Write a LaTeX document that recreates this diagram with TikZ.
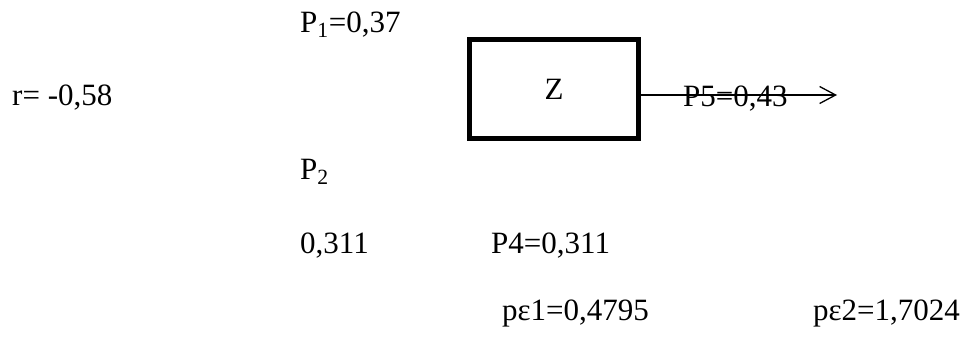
\documentclass[tikz,border=0pt]{standalone}
\usepackage{fontspec}
\setmainfont{Liberation Serif}
\usetikzlibrary{arrows.meta}
\begin{document}
\begin{tikzpicture}[x=1pt,y=-1pt,
  lbl/.style={anchor=base west,inner sep=0pt,font=\fontsize{31}{37}\selectfont},
  blockbox/.style={draw,line width=5pt,minimum width=169pt,minimum height=99pt,inner sep=0pt,font=\fontsize{31}{37}\selectfont},
  flow/.style={line width=1.3pt,-{Straight Barb[length=16pt,width=17pt,line width=1.3pt]}}]
\useasboundingbox (0,0) rectangle (967,338);
\node[lbl] (p1) at (300,32) {P\textsubscript{1}=0,37};
\node[lbl] (r) at (12,105) {r= -0,58};
\node[blockbox] (z) at (554,89) {Z};
\coordinate (aend) at (837,95);
\draw[flow] (aend -| z.east) -- (aend);
\node[lbl] (p5) at (683,106) {P5=0,43};
\node[lbl] (p2) at (300,179) {P\textsubscript{2}};
\node[lbl] (v311) at (300,253) {0,311};
\node[lbl] (p4) at (491,253) {P4=0,311};
\node[lbl] (pe1) at (502,320) {pε1=0,4795};
\node[lbl] (pe2) at (813,320) {pε2=1,7024};
\end{tikzpicture}
\end{document}
